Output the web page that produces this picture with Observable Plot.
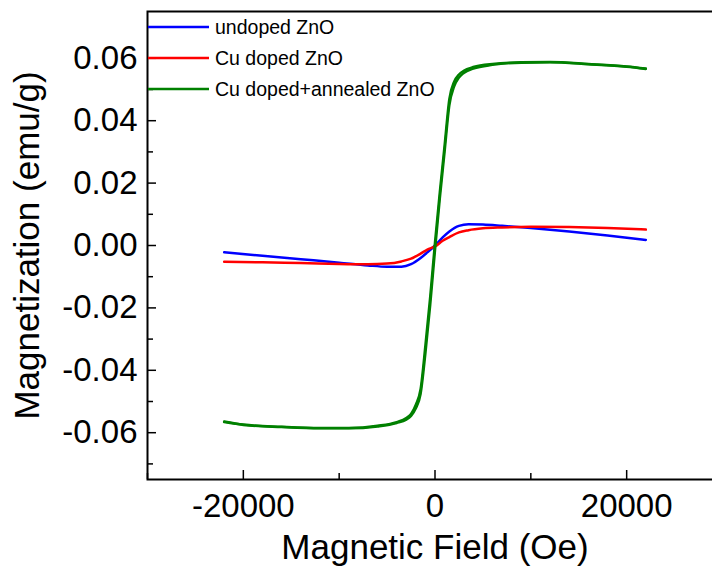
<!DOCTYPE html>
<html>
<head>
<meta charset="utf-8">
<script src="https://cdn.jsdelivr.net/npm/d3@7"></script>
<script src="https://cdn.jsdelivr.net/npm/@observablehq/plot@0.6"></script>
<style>
  html, body { margin: 0; padding: 0; background: #fff; overflow: hidden; }
  #chart svg { overflow: hidden; display: block; }
</style>
</head>
<body>
<div id="chart"></div>
<script>
// M-H loops of ZnO samples (field in Oe, magnetization in emu/g)
const seriesNames = ["undoped ZnO", "Cu doped ZnO", "Cu doped+annealed ZnO"];
const seriesColors = ["#0000ff", "#ff0000", "#008000"];

// weak-signal samples share one field grid
const fieldWeak = [-22000, -18000, -14000, -10000, -7000, -5000, -3500, -2500, -1500, -800, 0,
                   800, 1500, 2500, 3500, 5000, 7000, 10000, 14000, 18000, 22000];
const undoped = [-0.0022, -0.0033, -0.0044, -0.0055, -0.0064, -0.0068, -0.0068, -0.0060, -0.0040, -0.0022, 0.0000,
                 0.0026, 0.0045, 0.0063, 0.0068, 0.0067, 0.0063, 0.0056, 0.0045, 0.0032, 0.0018];
const cuDoped = [-0.0052, -0.0054, -0.0056, -0.0059, -0.0060, -0.0058, -0.0051, -0.0042, -0.0026, -0.0013, -0.0003,
                 0.0015, 0.0027, 0.0042, 0.0049, 0.0055, 0.0058, 0.0060, 0.0059, 0.0056, 0.0051];

// annealed sample: descending and ascending branches of the loop
const fieldAnnealed = [-22000, -20000, -16000, -12000, -9000, -6000, -4000, -3000, -2500, -2000, -1500, -1000, -500, 0,
                       500, 1000, 1500, 2000, 2500, 3000, 4000, 6000, 9000, 12000, 16000, 20000, 22000];
const annealedDown = [-0.0564, -0.0574, -0.0581, -0.0585, -0.0585, -0.0578, -0.0566, -0.0553, -0.0540, -0.0510, -0.0460, -0.0320, -0.0165, 0.0010,
                      0.0170, 0.0320, 0.0470, 0.0525, 0.0548, 0.0560, 0.0572, 0.0582, 0.0587, 0.0588, 0.0582, 0.0574, 0.0567];
const annealedUp = [-0.0566, -0.0575, -0.0582, -0.0586, -0.0586, -0.0580, -0.0569, -0.0558, -0.0546, -0.0522, -0.0475, -0.0345, -0.0190, -0.0015,
                    0.0150, 0.0300, 0.0450, 0.0510, 0.0538, 0.0553, 0.0567, 0.0579, 0.0586, 0.0587, 0.0581, 0.0573, 0.0566];

// axis ticks and their labels
const xTicks = [-20000, 0, 20000];
const xTickLabels = ["-20000", "0", "20000"];
const xMinorTicks = [-30000, -10000, 10000, 30000];
const yTicks = [-0.06, -0.04, -0.02, 0.00, 0.02, 0.04, 0.06];
const yTickLabels = ["-0.06", "-0.04", "-0.02", "0.00", "0.02", "0.04", "0.06"];
const yMinorTicks = [-0.07, -0.05, -0.03, -0.01, 0.01, 0.03, 0.05, 0.07];

const xLabelOf = new Map(xTicks.map((v, i) => [v, xTickLabels[i]]));
const yLabelOf = new Map(yTicks.map((v, i) => [v, yTickLabels[i]]));

const rows = [];
fieldWeak.forEach((h, i) => rows.push({series: seriesNames[0], branch: "a", field: h, m: undoped[i]}));
fieldWeak.forEach((h, i) => rows.push({series: seriesNames[1], branch: "a", field: h, m: cuDoped[i]}));
fieldAnnealed.forEach((h, i) => rows.push({series: seriesNames[2], branch: "down", field: h, m: annealedDown[i]}));
fieldAnnealed.forEach((h, i) => rows.push({series: seriesNames[2], branch: "up", field: h, m: annealedUp[i]}));

const font = "'Liberation Sans', Arial, Helvetica, sans-serif";

const chart = Plot.plot({
  width: 712,
  height: 570,
  marginLeft: 147,
  marginRight: -10,
  marginTop: 11,
  marginBottom: 91,
  style: {fontFamily: font, color: "#000", background: "#fff", overflow: "hidden"},
  x: {domain: [-30000, 30000]},
  y: {domain: [-0.075, 0.075]},
  color: {domain: seriesNames, range: seriesColors},
  marks: [
    Plot.axisX(xMinorTicks, {tickSize: -6, strokeWidth: 1.5, tickFormat: () => "", label: null}),
    Plot.axisX(xTicks, {
      tickSize: -9, tickPadding: 23, strokeWidth: 1.5, fontSize: 33,
      tickFormat: d => xLabelOf.get(d),
      label: "Magnetic Field (Oe)", labelAnchor: "center", labelArrow: "none", labelOffset: 79
    }),
    Plot.axisY(yMinorTicks, {tickSize: -6, strokeWidth: 1.5, tickFormat: () => "", label: null}),
    Plot.axisY(yTicks, {
      tickSize: -9, tickPadding: 19, strokeWidth: 1.5, fontSize: 33,
      tickFormat: d => yLabelOf.get(d),
      label: "Magnetization (emu/g)", labelAnchor: "center", labelArrow: "none", labelOffset: 133
    }),
    Plot.line(rows, {
      x: "field", y: "m", z: d => d.series + d.branch, stroke: "series",
      strokeWidth: 2.5, curve: "monotone-x"
    }),
    Plot.frame({stroke: "#000", strokeWidth: 2})
  ]
});

document.getElementById("chart").appendChild(chart);

// axis titles are set a little larger than the tick labels
d3.select(chart).selectAll('g[aria-label$="axis label"]').attr("font-size", 35);

// legend drawn inside the upper-left corner of the frame
const legend = d3.select(chart).append("g")
  .style("font-family", font)
  .style("font-size", "19.5px")
  .attr("text-anchor", "start")
  .attr("fill", "#000");
seriesNames.forEach((name, i) => {
  const y = 27 + i * 31;
  legend.append("line")
    .attr("x1", 148).attr("x2", 209).attr("y1", y).attr("y2", y)
    .attr("stroke", seriesColors[i]).attr("stroke-width", 2.5);
  legend.append("text")
    .attr("x", 215).attr("y", y).attr("dy", "0.35em")
    .attr("text-anchor", "start")
    .text(name);
});
</script>
</body>
</html>
